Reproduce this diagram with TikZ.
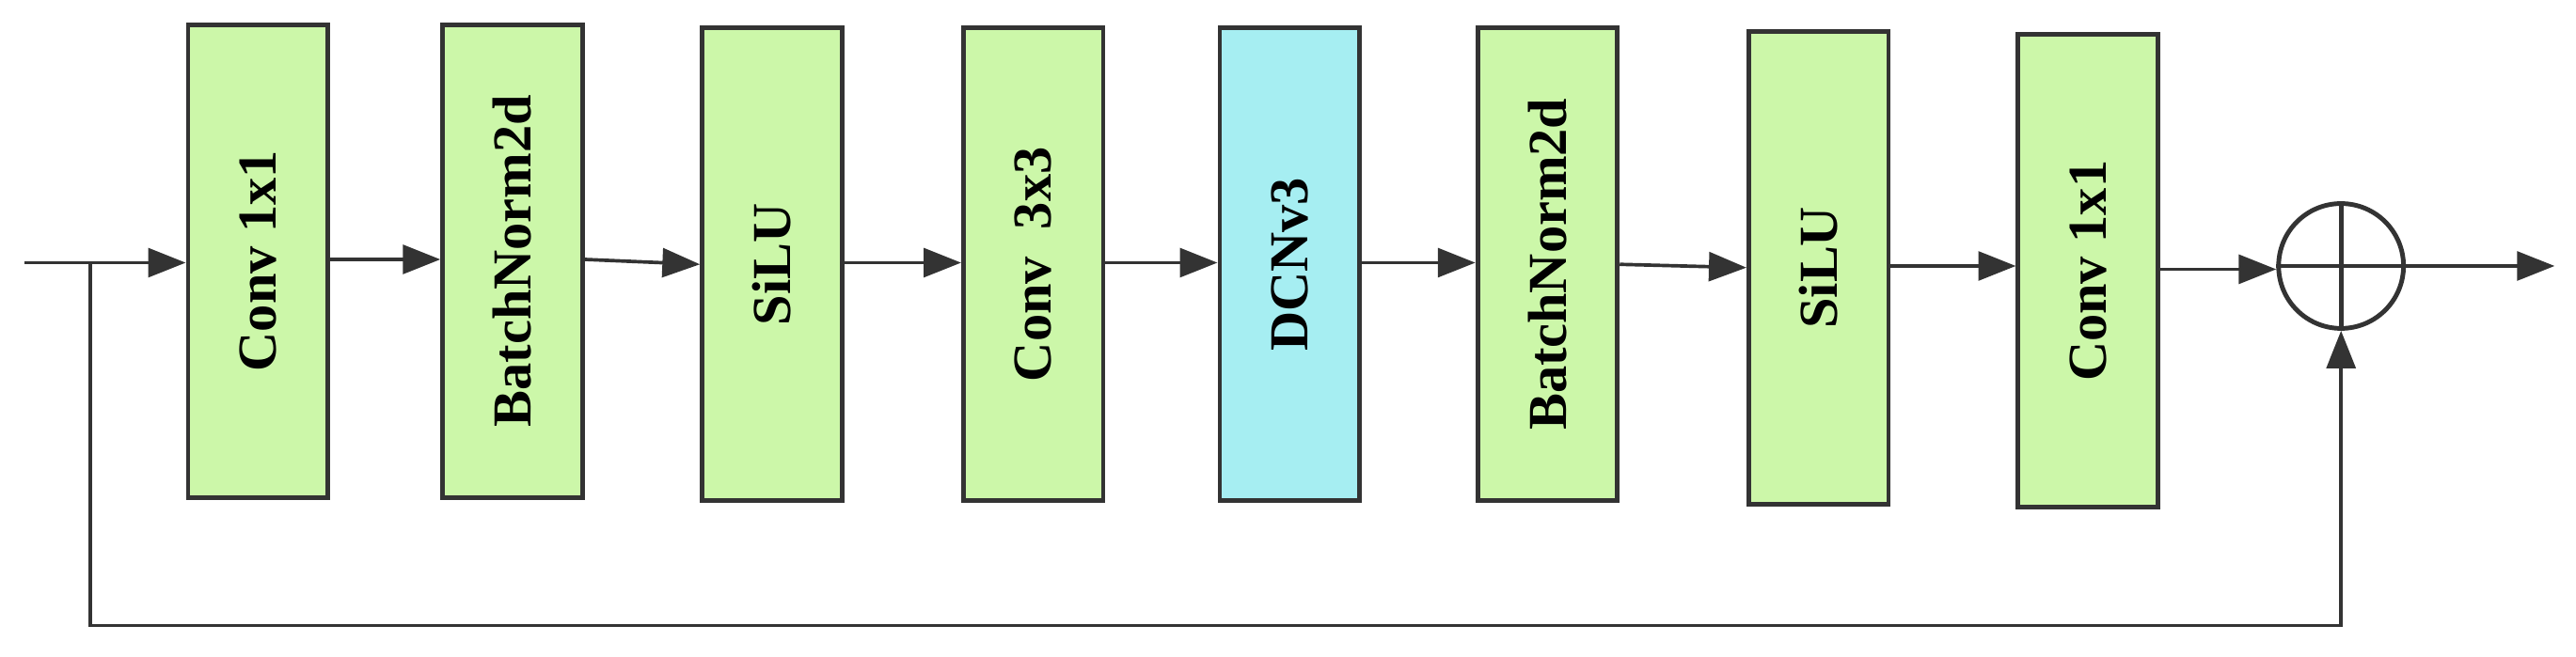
\documentclass[tikz,border=0pt]{standalone}
\usepackage{fontspec}
\setmainfont{Liberation Serif}
\usetikzlibrary{arrows.meta}
\definecolor{gbox}{HTML}{CCF7A9}
\definecolor{cbox}{HTML}{A6EEF2}
\definecolor{ln}{HTML}{333333}
\begin{document}
\begin{tikzpicture}[x=0.01cm,y=-0.01cm,
  blk/.style={draw=ln,line width=0.8pt,fill=gbox,minimum width=0.85cm,minimum height=2.88cm,inner sep=0pt,
    font=\fontsize{9.5}{10}\selectfont\bfseries,text=black},
  con/.style={draw=ln,line width=0.6pt,-{Triangle[length=6.5pt,width=5pt]}}]
\useasboundingbox (0,0) rectangle (1568,400);
\node[blk] (b1) at (157,159) {\rotatebox{90}{Conv 1x1}};
\node[blk] (b2) at (312,159) {\rotatebox{90}{BatchNorm2d}};
\node[blk] (b3) at (470,161) {\rotatebox{90}{SiLU}};
\node[blk] (b4) at (629,161) {\rotatebox{90}{Conv\ \ 3x3}};
\node[blk,fill=cbox] (b5) at (785,161) {\rotatebox{90}{DCNv3}};
\node[blk] (b6) at (942,161) {\rotatebox{90}{BatchNorm2d}};
\node[blk] (b7) at (1107,163) {\rotatebox{90}{SiLU}};
\node[blk] (b8) at (1271,165) {\rotatebox{90}{Conv 1x1}};
\node[draw=ln,line width=0.8pt,circle,minimum size=0.76cm,inner sep=0pt] (sum) at (1425,162) {};
\draw[ln,line width=0.8pt] (sum.north)--(sum.south) (sum.west)--(sum.east);
\coordinate (in) at (15,160);
\coordinate (sp) at (55,160);
\coordinate (out) at (1555,162);
\draw[con] (in) -- (b1.west|-in);
\draw[con] (b1.east|-0,158) -- (b2.west|-0,158);
\draw[con] (b2.east|-0,158) -- (b3.west|-0,161);
\draw[con] (b3.east|-0,160) -- (b4.west|-0,160);
\draw[con] (b4.east|-0,160) -- (b5.west|-0,160);
\draw[con] (b5.east|-0,160) -- (b6.west|-0,160);
\draw[con] (b6.east|-0,161) -- (b7.west|-0,163);
\draw[con] (b7.east|-0,162) -- (b8.west|-0,162);
\draw[con] (b8.east|-0,164) -- (sum.west|-0,164);
\draw[con] (sum.east) -- (out);
\draw[con] (sp) -- (55,381) -- (1425,381) -- (sum.south);
\end{tikzpicture}
\end{document}
